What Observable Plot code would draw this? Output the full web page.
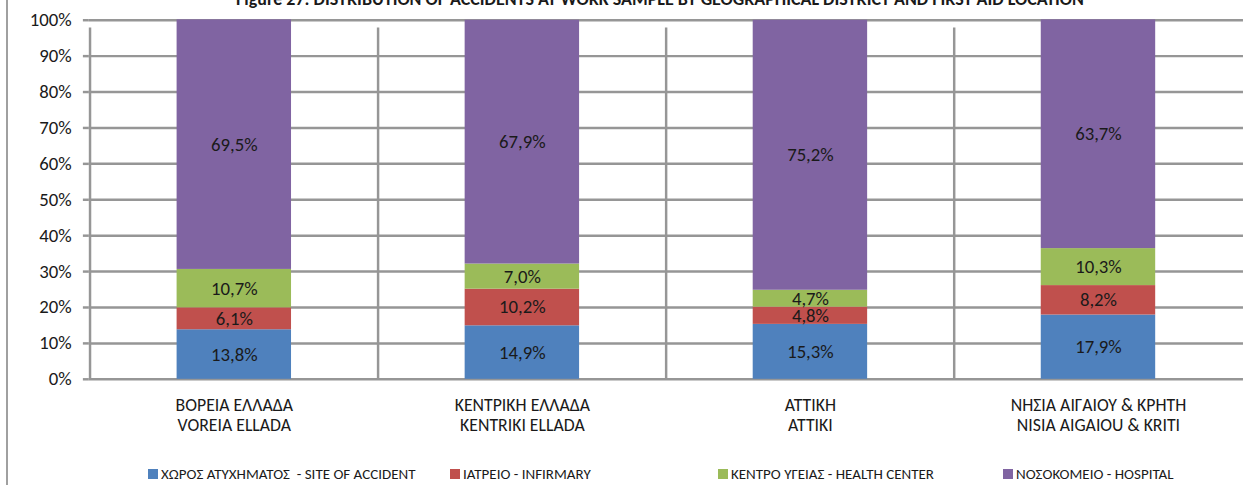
<!DOCTYPE html>
<html>
<head>
<meta charset="utf-8">
<script src="https://cdn.jsdelivr.net/npm/d3@7"></script>
<script src="https://cdn.jsdelivr.net/npm/@observablehq/plot@0.6"></script>
<style>
  html, body { margin: 0; padding: 0; background: #fff; }
  #wrap { position: relative; width: 1243px; height: 485px; overflow: hidden; font-family: Carlito, "Open Sans", sans-serif; color: #1a1a1a; }
  #border { position: absolute; left: 6px; top: 0; width: 2px; height: 485px; background: #a0a0a0; }
  #title { position: absolute; left: 0; width: 1320px; top: -10px; line-height: 18px; text-align: center; font-weight: bold; font-size: 18px; white-space: nowrap; }
  #chart { position: absolute; left: 0; top: 0; }
  #legend { position: absolute; top: 464px; left: 0; width: 1243px; height: 20px; font-size: 15px; line-height: 20px; }
  .item { position: absolute; top: 0; white-space: nowrap; display: flex; align-items: center; }
  .sw { width: 10px; height: 10px; margin-right: 3px; display: inline-block; }
</style>
</head>
<body>
<div id="wrap">
  <div id="border"></div>
  <div id="title"></div>
  <div id="chart"></div>
  <div id="legend"></div>
</div>
<script>
const titleText = "Figure 27: DISTRIBUTION OF ACCIDENTS AT WORK SAMPLE BY GEOGRAPHICAL DISTRICT AND FIRST AID LOCATION";
const categoriesGreek = ["ΒΟΡΕΙΑ ΕΛΛΑΔΑ", "ΚΕΝΤΡΙΚΗ ΕΛΛΑΔΑ", "ΑΤΤΙΚΗ", "ΝΗΣΙΑ ΑΙΓΑΙΟΥ & ΚΡΗΤΗ"];
const categoriesLatin = ["VOREIA ELLADA", "KENTRIKI ELLADA", "ATTIKI", "NISIA AIGAIOU & KRITI"];
const series = ["ΧΩΡΟΣ ΑΤΥΧΗΜΑΤΟΣ  - SITE OF ACCIDENT", "ΙΑΤΡΕΙΟ - INFIRMARY", "ΚΕΝΤΡΟ ΥΓΕΙΑΣ - HEALTH CENTER", "ΝΟΣΟΚΟΜΕΙΟ - HOSPITAL"];
const siteOfAccident = [13.8, 14.9, 15.3, 17.9];
const infirmary = [6.1, 10.2, 4.8, 8.2];
const healthCenter = [10.7, 7.0, 4.7, 10.3];
const hospital = [69.5, 67.9, 75.2, 63.7];
const colors = ["#4F81BD", "#C0504D", "#9BBB59", "#8064A2"];
const yTicks = [0, 10, 20, 30, 40, 50, 60, 70, 80, 90, 100];
const legendX = [148, 450, 718, 1003];

const categories = categoriesGreek.map((g, i) => g + "\n" + categoriesLatin[i]);
const seriesValues = [siteOfAccident, infirmary, healthCenter, hospital];
const data = [];
series.forEach((s, si) => categories.forEach((c, ci) => data.push({cat: c, series: s, value: seriesValues[si][ci]})));

const W = 1260, marginLeft = 90;
const step = (W - marginLeft) / categories.length;
const fmt = v => v.toFixed(1).replace(".", ",") + "%";
const grid = "#969696";

const chart = Plot.plot({
  width: W,
  height: 445,
  marginLeft: marginLeft,
  marginRight: 0,
  marginTop: 20,
  marginBottom: 61,
  style: {fontFamily: 'Carlito, "Open Sans", sans-serif', fontSize: "18px", color: "#1a1a1a", background: "transparent"},
  x: {domain: categories, padding: 0},
  y: {domain: [0, 100]},
  color: {domain: series, range: colors},
  marks: [
    Plot.ruleY(yTicks, {stroke: grid, strokeWidth: 2.5, strokeOpacity: 1}),
    Plot.ruleX(categories, {x: d => d, dx: -step / 2, y1: 0, y2: 100, insetBottom: -8, stroke: grid, strokeWidth: 2.5}),
    Plot.barY(data, Plot.stackY({x: "cat", y: "value", fill: "series", insetLeft: 88, insetRight: 88})),
    Plot.text(data, Plot.stackY({x: "cat", y: "value", z: "series", text: d => fmt(d.value), fill: "#1a1a1a", fontSize: 19})),
    Plot.axisY({ticks: yTicks, tickFormat: d => d + "%", tickSize: 6, tickPadding: 12, stroke: grid, strokeWidth: 2.5, fontSize: 19, label: null}),
    Plot.axisX({tickSize: 0, tickPadding: 17, lineHeight: 1.15, fontSize: 18, label: null})
  ]
});
document.getElementById("chart").appendChild(chart);
document.getElementById("title").textContent = titleText;

const legend = document.getElementById("legend");
series.forEach((s, i) => {
  const item = document.createElement("div");
  item.className = "item";
  item.style.left = legendX[i] + "px";
  const sw = document.createElement("span");
  sw.className = "sw";
  sw.style.background = colors[i];
  const t = document.createElement("span");
  t.textContent = s;
  t.style.whiteSpace = "pre";
  item.appendChild(sw);
  item.appendChild(t);
  legend.appendChild(item);
});
</script>
</body>
</html>
